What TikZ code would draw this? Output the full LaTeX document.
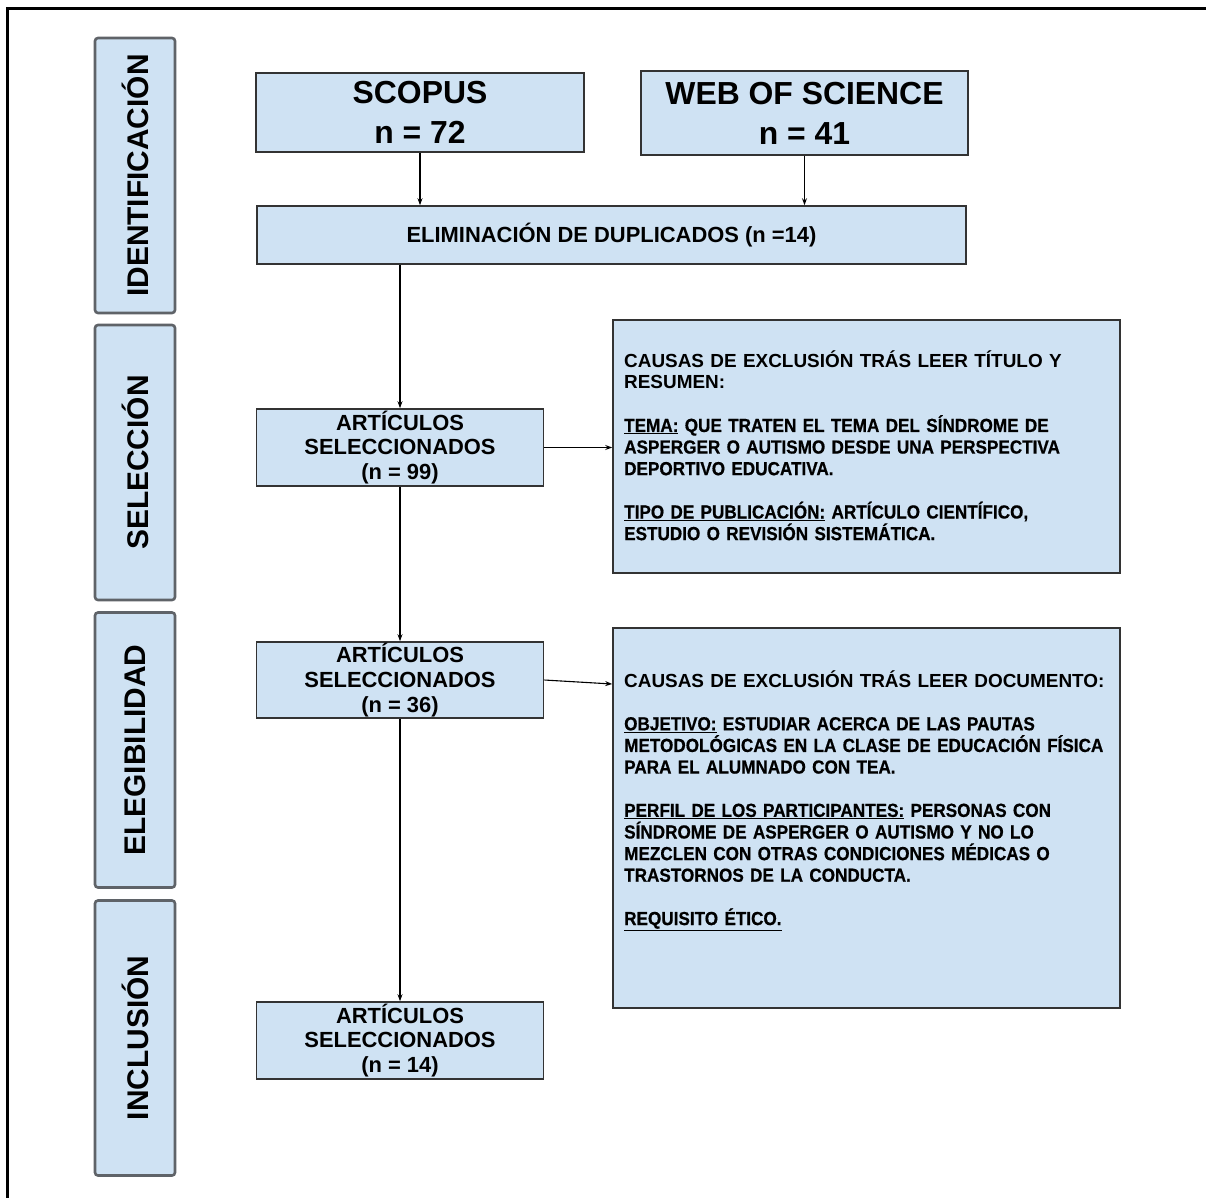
\documentclass[tikz,border=0pt]{standalone}
\usepackage{fontspec}
\setmainfont{Liberation Sans}
\newfontfamily\condfont[FakeStretch=0.905,FakeBold=0.6,UprightFont={* Bold},BoldFont={* Bold}]{Liberation Sans}
\usetikzlibrary{arrows.meta,calc}
\definecolor{boxfill}{HTML}{CFE2F3}
\definecolor{boxline}{HTML}{333333}
\definecolor{phaseline}{HTML}{5F6368}
\begin{document}
\begin{tikzpicture}[x=1bp,y=-1bp,
  flow/.style={draw=boxline, line width=1.6bp, fill=boxfill, inner sep=0pt, align=center},
  phase/.style={draw=phaseline, line width=2.6bp, fill=boxfill, rounded corners=3bp, inner sep=0pt, rotate=90, minimum width=275bp, minimum height=80bp, font=\fontsize{30}{34}\selectfont\bfseries},
  arr/.style={draw=black, line width=1.1bp, -{Stealth[length=7bp,width=5bp]}},
  exctext/.style={inner sep=0pt, anchor=base west, text width=540bp, align=left, font=\fontsize{19}{21.7}\selectfont\bfseries}
]
\useasboundingbox (0,0) rectangle (1206,1198);
\fill[white] (0,0) rectangle (1206,1198);
\draw[line width=3bp] (7,1210) -- (7,8) -- (1215,8);

% phase boxes
\node[phase] (ident) at (135,175.5) {IDENTIFICACIÓN};
\node[phase] (selec) at (135,462.5) {SELECCIÓN};
\node[phase] (elegi) at (135,750) {ELEGIBILIDAD};
\node[phase] (inclu) at (135,1038) {INCLUSIÓN};

% flow boxes
\node[flow, minimum width=328bp, minimum height=79bp, font=\fontsize{32}{40}\selectfont\bfseries] (scopus) at (420,112.5) {SCOPUS\\n = 72};
\node[flow, minimum width=327bp, minimum height=84bp, font=\fontsize{32}{40}\selectfont\bfseries] (wos) at (804.5,113) {WEB OF SCIENCE\\n = 41};
\node[flow, minimum width=709bp, minimum height=58bp, font=\fontsize{22}{25}\selectfont\bfseries] (elim) at (611.5,235) {ELIMINACIÓN DE DUPLICADOS (n =14)};
\node[flow, minimum width=287bp, minimum height=77bp, font=\fontsize{22}{25}\selectfont\bfseries] (art99) at (400,447.5) {ARTÍCULOS\\SELECCIONADOS\\(n = 99)};
\node[flow, minimum width=287bp, minimum height=76bp, font=\fontsize{22}{25}\selectfont\bfseries] (art36) at (400,680) {ARTÍCULOS\\SELECCIONADOS\\(n = 36)};
\node[flow, minimum width=287bp, minimum height=77bp, font=\fontsize{22}{25}\selectfont\bfseries] (art14) at (400,1040.5) {ARTÍCULOS\\SELECCIONADOS\\(n = 14)};
\node[flow, minimum width=507bp, minimum height=253bp] (exc1) at (866.5,446.5) {};
\node[flow, minimum width=507bp, minimum height=380bp] (exc2) at (866.5,818) {};

% exclusion texts
\node[exctext] (exc1t) at (624,367) {CAUSAS DE EXCLUSIÓN TRÁS LEER TÍTULO Y\\RESUMEN:\\[21.7bp]\condfont \underline{TEMA:} QUE TRATEN EL TEMA DEL SÍNDROME DE\\ASPERGER O AUTISMO DESDE UNA PERSPECTIVA\\DEPORTIVO EDUCATIVA.\\[21.7bp]\underline{TIPO DE PUBLICACIÓN:} ARTÍCULO CIENTÍFICO,\\ESTUDIO O REVISIÓN SISTEMÁTICA.};
\node[exctext] (exc2t) at (624,687) {CAUSAS DE EXCLUSIÓN TRÁS LEER DOCUMENTO:\\[21.7bp]\condfont \underline{OBJETIVO:} ESTUDIAR ACERCA DE LAS PAUTAS\\METODOLÓGICAS EN LA CLASE DE EDUCACIÓN FÍSICA\\PARA EL ALUMNADO CON TEA.\\[21.7bp]\underline{PERFIL DE LOS PARTICIPANTES:} PERSONAS CON\\SÍNDROME DE ASPERGER O AUTISMO Y NO LO\\MEZCLEN CON OTRAS CONDICIONES MÉDICAS O\\TRASTORNOS DE LA CONDUCTA.\\[21.7bp]\underline{REQUISITO ÉTICO.}};

% connectors
\draw[arr] (scopus.south) -- (scopus.south |- elim.north);
\draw[arr] (wos.south) -- (wos.south |- elim.north);
\draw[arr] (elim.south -| art99.north) -- (art99.north);
\draw[arr] (art99.east) -- (art99.east -| exc1.west);
\draw[arr] (art99.south) -- (art36.north);
\draw[arr] (art36.east) -- ($(art36.east -| exc2.west)+(0,4)$);
\draw[arr] (art36.south) -- (art14.north);
\end{tikzpicture}
\end{document}
